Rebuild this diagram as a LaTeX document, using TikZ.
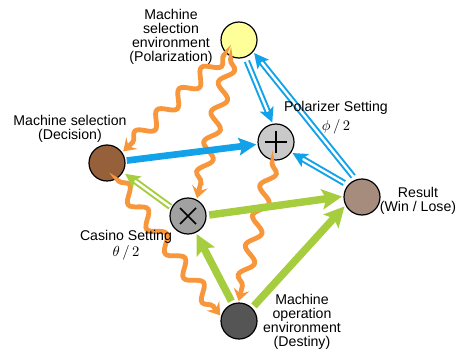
\documentclass[tikz,border=0pt]{standalone}
\usepackage{fontspec}
\setmainfont{Liberation Sans}
\usetikzlibrary{arrows.meta,decorations.pathmorphing,calc}

\definecolor{pblue}{HTML}{12A2EA}
\definecolor{cgreen}{HTML}{A6CD3E}
\definecolor{worange}{HTML}{F8963C}
\definecolor{envyellow}{HTML}{FFFF99}
\definecolor{polgray}{HTML}{C9C9C9}
\definecolor{casgray}{HTML}{A1A1A1}
\definecolor{decbrown}{HTML}{96603A}
\definecolor{resbrown}{HTML}{A68C7D}
\definecolor{desgray}{HTML}{555555}

\tikzset{
  state/.style={circle,draw=black,line width=0.9pt,minimum size=27pt,inner sep=0pt},
  plusnode/.style={state,fill=polgray,path picture={
      \draw[line width=1.2pt]
        ($(path picture bounding box.center)+(-8pt,0pt)$) -- ($(path picture bounding box.center)+(8pt,0pt)$)
        ($(path picture bounding box.center)+(0pt,-8pt)$) -- ($(path picture bounding box.center)+(0pt,8pt)$);}},
  timesnode/.style={state,fill=casgray,path picture={
      \draw[line width=1.2pt]
        ($(path picture bounding box.center)+(-6pt,-6pt)$) -- ($(path picture bounding box.center)+(6pt,6pt)$)
        ($(path picture bounding box.center)+(-6pt,6pt)$) -- ($(path picture bounding box.center)+(6pt,-6pt)$);}},
  wave/.style={draw=worange,line width=3.6pt,shorten <=3pt,shorten >=1pt,
      decorate,decoration={snake,amplitude=5pt,segment length=23pt,pre length=2pt,post length=9pt},
      -{Stealth[length=9pt,width=12pt,inset=3.5pt]}},
  blueline/.style={draw=pblue,line width=5pt,shorten <=1pt,shorten >=1pt,
      -{Stealth[length=13pt,width=13pt,inset=2.5pt]}},
  bluedouble/.style={draw=pblue,double=white,line width=1.5pt,double distance=1.8pt,
      shorten <=3pt,shorten >=1pt,-{Stealth[length=11pt,width=11pt,inset=2.5pt]}},
  greenline/.style={draw=cgreen,line width=5.6pt,shorten <=2pt,shorten >=1pt,
      -{Stealth[length=15pt,width=15pt,inset=3pt]}},
  greendouble/.style={draw=cgreen,double=white,line width=1.5pt,double distance=1.8pt,
      shorten <=1pt,shorten >=2pt,-{Stealth[length=11pt,width=11pt,inset=2.5pt]}},
  lab/.style={align=center,inner sep=0pt,font=\fontsize{10.6}{10.5}\selectfont}
}

\begin{document}
\begin{tikzpicture}[x=0.75pt,y=-0.75pt]
\useasboundingbox (0,0) rectangle (459,356);

% states
\node[state,fill=envyellow] (env) at (239,40) {};
\node[plusnode] (pol) at (276,142) {};
\node[state,fill=decbrown] (dec) at (107,163) {};
\node[timesnode] (cas) at (188,216) {};
\node[state,fill=resbrown] (res) at (362,197) {};
\node[state,fill=desgray] (des) at (239,321) {};

% wavy influences
\draw[wave] (env.225) -- (dec.35);
\draw[wave] (env.245) -- (cas.62);
\draw[wave] (dec.302) -- (des.166);
\draw[wave] (pol.260) -- (des.92);

% blue arrows
\draw[blueline] (dec) -- (pol);
\draw[bluedouble] (env.290) -- (pol.100);
\draw[bluedouble] (res.110) -- (env.320);
\draw[bluedouble] (res.140) -- (pol.326);

% green arrows
\draw[greenline] (cas.2) -- (res.178);
\draw[greenline] (des.110) -- (cas.295);
\draw[greenline] (des.45) -- (res.207);
\draw[greendouble] (cas.153) -- (dec.330);

% labels
\node[lab] (envlab) at (171,37) {Machine\\selection\\environment\\(Polarization)};
\node[lab] (declab) at (70,129) {Machine selection\\(Decision)};
\node[lab] (pollab) at (336,118) {Polarizer Setting\\[3.5pt]$\phi\,/\,2$};
\node[lab] (caslab) at (126,245) {Casino Setting\\[1.5pt]$\theta\,/\,2$};
\node[lab] (reslab) at (418,201) {Result\\(Win / Lose)};
\node[lab] (deslab) at (302,322) {Machine\\operation\\environment\\(Destiny)};
\end{tikzpicture}
\end{document}
